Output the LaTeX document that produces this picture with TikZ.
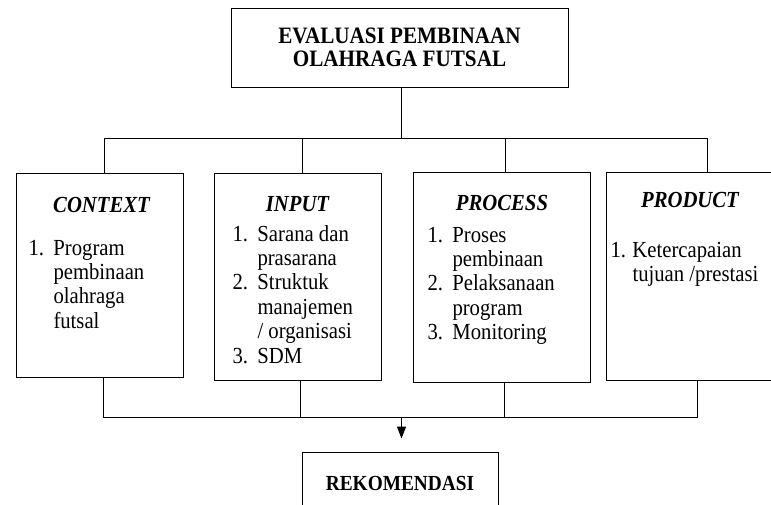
\documentclass[tikz,border=0pt]{standalone}
\usepackage{fontspec}
\setmainfont{Liberation Serif}[FakeStretch=0.9]
\usetikzlibrary{arrows.meta, positioning}

\begin{document}
\begin{tikzpicture}[x=1pt, y=-1pt, >={Triangle[length=12pt, width=9pt]}, line width=1pt,
    box/.style={draw, rectangle, inner sep=0pt},
    head/.style={font=\fontsize{23}{24}\selectfont\bfseries\itshape, anchor=base, inner sep=0pt},
    items/.style={font=\fontsize{23}{24.4}\selectfont, anchor=base west, inner sep=0pt}]
    \useasboundingbox (0,0) rectangle (771,504);
    \clip (0,0) rectangle (771,504);

    %define the boxes
    \node[box, minimum width=337pt, minimum height=79pt, align=center,
          font=\fontsize{23.5}{23}\selectfont\bfseries] (eval) at (399.5,47.5)
          {EVALUASI PEMBINAAN\\OLAHRAGA FUTSAL};
    \node[box, minimum width=167pt, minimum height=204pt] (context) at (99.5,275) {};
    \node[box, minimum width=167pt, minimum height=207pt] (input)   at (297.5,276.5) {};
    \node[box, minimum width=177pt, minimum height=210pt] (process) at (501.5,277) {};
    \node[box, minimum width=170pt, minimum height=208pt] (product) at (691,276) {};
    \node[box, minimum width=196pt, minimum height=63pt,
          font=\fontsize{21.5}{22}\selectfont\bfseries] (rekom) at (400,483.5) {REKOMENDASI};

    %define the texts inside the boxes
    \node[head] (contexthead) at (101.5,212) {CONTEXT};
    \node[head] (inputhead)   at (297.5,211) {INPUT};
    \node[head] (processhead) at (502,210)   {PROCESS};
    \node[head] (producthead) at (690,207)   {PRODUCT};

    \node[items] (contextlist) at (28,255) {\begin{tabular}[t]{@{}p{25pt}@{}l@{}}
        1. & Program\\ & pembinaan\\ & olahraga\\ & futsal\end{tabular}};
    \node[items] (inputlist) at (232,241) {\begin{tabular}[t]{@{}p{25pt}@{}l@{}}
        1. & Sarana dan\\ & prasarana\\ 2. & Struktuk\\ & manajemen\\
           & / organisasi\\ 3. & SDM\end{tabular}};
    \node[items] (processlist) at (427,242) {\begin{tabular}[t]{@{}p{25pt}@{}l@{}}
        1. & Proses\\ & pembinaan\\ 2. & Pelaksanaan\\ & program\\
        3. & Monitoring\end{tabular}};
    \node[items] (productlist) at (610,257) {\begin{tabular}[t]{@{}p{22pt}@{}l@{}}
        1. & Ketercapaian\\ & tujuan /prestasi\end{tabular}};

    %define the links
    \coordinate (tmid) at (401.5,138);
    \coordinate (t1) at (104,138);
    \coordinate (t2) at (302,138);
    \coordinate (t3) at (505,138);
    \coordinate (t4) at (707,138);
    \coordinate (b1) at (103,417);
    \coordinate (b2) at (300,417);
    \coordinate (b3) at (504,417);
    \coordinate (b4) at (697,417);
    \coordinate (bmid) at (401.5,417);

    \draw (tmid |- eval.south) -- (tmid);
    \draw (t1) -- (t4);
    \draw (t1) -- (t1 |- context.north);
    \draw (t2) -- (t2 |- input.north);
    \draw (t3) -- (t3 |- process.north);
    \draw (t4) -- (t4 |- product.north);

    \draw (b1 |- context.south) -- (b1) -- (b4) -- (b4 |- product.south);
    \draw (b2 |- input.south) -- (b2);
    \draw (b3 |- process.south) -- (b3);
    \draw[->, shorten >=13pt] (bmid) -- (bmid |- rekom.north);
\end{tikzpicture}
\end{document}
